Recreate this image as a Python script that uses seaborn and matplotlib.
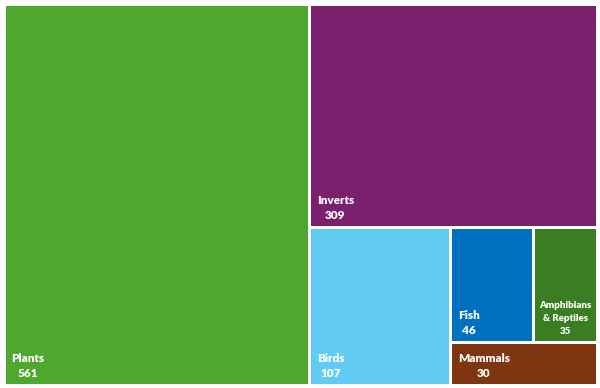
"""
Treemap of species counts by group, squarified layout drawn with matplotlib patches.
"""
import matplotlib
matplotlib.use("Agg")
from matplotlib import pyplot as plt
from matplotlib.patches import Rectangle
import seaborn as sns

groups = ["Plants", "Inverts", "Birds", "Fish", "Amphibians\n& Reptiles", "Mammals"]
counts = [561, 309, 107, 46, 35, 30]
colors = ["#4EA72E", "#7A206C", "#61CBF3", "#0070C0", "#3B7D23", "#7F3510"]


def worst_ratio(row, side):
    s = sum(row)
    return max(max(side * side * r / (s * s), s * s / (side * side * r)) for r in row)


def layout_row(row, x, y, w, h):
    """Place one row along the shorter side and return rects plus leftover space."""
    s = sum(row)
    rects = []
    if w >= h:
        cw = s / h
        cy = y
        for r in row:
            rects.append((x, cy, cw, r / cw))
            cy += r / cw
        return rects, (x + cw, y, w - cw, h)
    rh = s / w
    cx = x
    for r in row:
        rects.append((cx, y, r / rh, rh))
        cx += r / rh
    return rects, (x, y + rh, w, h - rh)


def squarify(values, x, y, w, h):
    total = sum(values)
    areas = [v * w * h / total for v in values]
    rects = []
    rest = (x, y, w, h)
    i = 0
    while i < len(areas):
        side = min(rest[2], rest[3])
        row = [areas[i]]
        i += 1
        while i < len(areas) and worst_ratio(row + [areas[i]], side) <= worst_ratio(row, side):
            row.append(areas[i])
            i += 1
        placed, rest = layout_row(row, *rest)
        rects.extend(placed)
    return rects


sns.set_theme(style="white")
plt.rcParams['font.family'] = ['Lato', 'DejaVu Sans']

fig = plt.figure(figsize=(6, 3.88), dpi=100)
ax = fig.add_axes([0, 0, 1, 1])
ax.set_xlim(0, 600)
ax.set_ylim(388, 0)
ax.axis("off")

gap = 3
rects = squarify(counts, 4, 4, 593, 381)
for (x, y, w, h), name, n, c in zip(rects, groups, counts, colors):
    ax.add_patch(Rectangle((x + gap / 2, y + gap / 2), w - gap, h - gap,
                           facecolor=c, edgecolor="none"))
    bottom = y + h - gap / 2
    if "\n" in name:
        cx = x + w / 2
        lines = name.split("\n") + [str(n)]
        for k, line in enumerate(lines):
            ax.text(cx, bottom - 9 - 13 * (len(lines) - 1 - k), line, color="white",
                    fontsize=7, fontweight="heavy", ha="center", va="center")
    else:
        t = ax.text(x + 7, bottom - 25, name, color="white", fontsize=8.5, fontweight="heavy",
                    ha="left", va="center")
        fig.canvas.draw()
        bb = t.get_window_extent().transformed(ax.transData.inverted())
        ax.text((bb.x0 + bb.x1) / 2, bottom - 10, str(n), color="white", fontsize=8.5,
                fontweight="heavy", ha="center", va="center")

fig.savefig("out.png", dpi=100)
